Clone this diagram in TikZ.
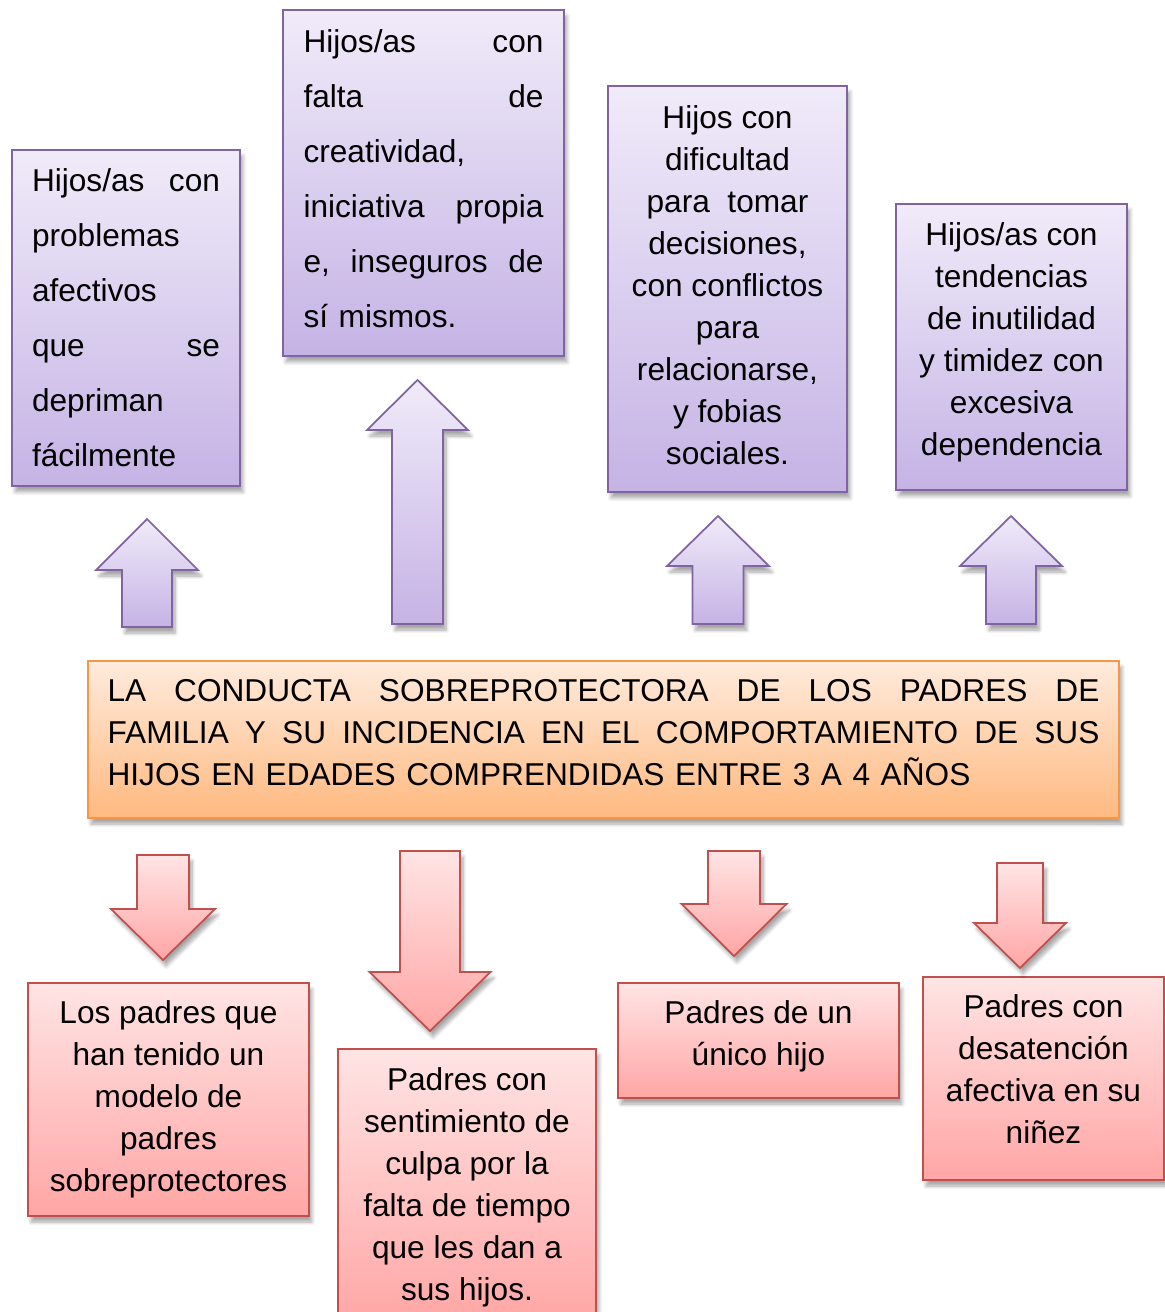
\documentclass[tikz,border=0pt]{standalone}
\usepackage{fontspec}
\setmainfont{Liberation Sans}
\usetikzlibrary{shadows.blur}
\definecolor{lilaTop}{HTML}{F0EBF9}
\definecolor{lilaBot}{HTML}{C5B3E5}
\definecolor{lilaLine}{HTML}{8064A2}
\definecolor{rojoTop}{HTML}{FFE4E4}
\definecolor{rojoBot}{HTML}{FFA6A5}
\definecolor{rojoLine}{HTML}{C0504D}
\definecolor{naranjaTop}{HTML}{FFEBDD}
\definecolor{naranjaBot}{HTML}{FFB97F}
\definecolor{naranjaLine}{HTML}{F79646}
% puntal invisible para bajar el borde inferior del texto
\newcommand{\prof}[1]{\rule[-#1]{0pt}{#1}}
\begin{document}
\begin{tikzpicture}[x=0.02cm, y=-0.02cm, every node/.style={font=\fontsize{18}{23.9}\selectfont}]
  \tikzstyle{sombra}=[blur shadow={shadow xshift=0.6mm, shadow yshift=-1.2mm, shadow blur steps=8, shadow opacity=35}]
  \tikzstyle{hijobox}=[draw=lilaLine, line width=1pt, top color=lilaTop, bottom color=lilaBot, inner sep=0pt, sombra]
  \tikzstyle{padrebox}=[draw=rojoLine, line width=1pt, top color=rojoTop, bottom color=rojoBot, inner sep=0pt, align=center, sombra]
  \tikzstyle{temabox}=[draw=naranjaLine, line width=1pt, top color=naranjaTop, bottom color=naranjaBot, inner sep=0pt, sombra]
  \tikzstyle{flechalila}=[draw=lilaLine, line width=1pt, top color=lilaTop, bottom color=lilaBot, line join=miter, sombra]
  \tikzstyle{flecharoja}=[draw=rojoLine, line width=1pt, top color=rojoTop, bottom color=rojoBot, line join=miter, sombra]
  \useasboundingbox (0,0) rectangle (1165,1312);

  % efectos en los hijos
  \node[hijobox, minimum width=4.56cm, minimum height=6.72cm, text width=3.76cm, align=left,
        font=\fontsize{18}{31.3}\selectfont] (afectivos) at (126,318)
    {Hijos/as\hfill con\\problemas\\afectivos\\que\hfill se\\depriman\\fácilmente};
  \node[hijobox, minimum width=5.62cm, minimum height=6.92cm, text width=4.8cm, align=left,
        font=\fontsize{18}{31.3}\selectfont] (creatividad) at (423.5,183)
    {Hijos/as\hfill con\\falta\hfill de\\creatividad,\\iniciativa\hfill propia\\e,\hfill inseguros\hfill de\\sí mismos.\prof{0.16cm}};
  \node[hijobox, minimum width=4.78cm, minimum height=8.12cm, align=center] (decisiones) at (727.5,289)
    {Hijos con\\dificultad\\para\ \ tomar\\decisiones,\\con conflictos\\para\\relacionarse,\\y fobias\\sociales.\prof{0.16cm}};
  \node[hijobox, minimum width=4.62cm, minimum height=5.72cm, align=center] (dependencia) at (1011.5,347)
    {Hijos/as con\\tendencias\\de inutilidad\\y timidez con\\excesiva\\dependencia\prof{0.33cm}};

  % tema central
  \node[temabox, minimum width=20.62cm, minimum height=3.14cm, text width=19.84cm, align=left] (conducta) at (603.5,739.5)
    {LA\hfill CONDUCTA\hfill SOBREPROTECTORA\hfill DE\hfill LOS\hfill PADRES\hfill DE\\
     FAMILIA\hfill Y\hfill SU\hfill INCIDENCIA\hfill EN\hfill EL\hfill COMPORTAMIENTO\hfill DE\hfill SUS\\
     HIJOS EN EDADES COMPRENDIDAS ENTRE 3 A 4 AÑOS\prof{0.28cm}};

  % causas en los padres
  \node[padrebox, minimum width=5.62cm, minimum height=4.66cm] (modelo) at (168.5,1099.5)
    {Los padres que\\han tenido un\\modelo de\\padres\\sobreprotectores};
  \node[padrebox, minimum width=5.16cm, minimum height=5.52cm] (culpa) at (467,1187)
    {Padres con\\sentimiento de\\culpa por la\\falta de tiempo\\que les dan a\\sus hijos.};
  \node[padrebox, minimum width=5.62cm, minimum height=2.3cm] (unico) at (758.5,1040.5)
    {Padres de un\\único hijo\prof{0.29cm}};
  \node[padrebox, minimum width=4.82cm, minimum height=4.06cm] (desatencion) at (1043.5,1078.5)
    {Padres con\\desatención\\afectiva en su\\niñez\prof{0.36cm}};

  % flechas de bloque
  \foreach \cx/\sw/\hw/\ya/\yh/\yt in {147/25/51/627/570/519, 417.5/25.5/50.5/624/430/380,
                                       718/25.5/51/624/566/516, 1011/25/51/624/566/516}
    \draw[flechalila] (\cx-\sw,\ya) -- (\cx-\sw,\yh) -- (\cx-\hw,\yh) -- (\cx,\yt)
      -- (\cx+\hw,\yh) -- (\cx+\sw,\yh) -- (\cx+\sw,\ya) -- cycle;
  \foreach \cx/\sw/\hw/\ya/\yh/\yt in {163/26/52/855/909/960, 430/30/60.5/851/972/1031,
                                       734/26/52.5/851/904/956, 1020/23/46/863/923/968}
    \draw[flecharoja] (\cx-\sw,\ya) -- (\cx-\sw,\yh) -- (\cx-\hw,\yh) -- (\cx,\yt)
      -- (\cx+\hw,\yh) -- (\cx+\sw,\yh) -- (\cx+\sw,\ya) -- cycle;
\end{tikzpicture}
\end{document}
